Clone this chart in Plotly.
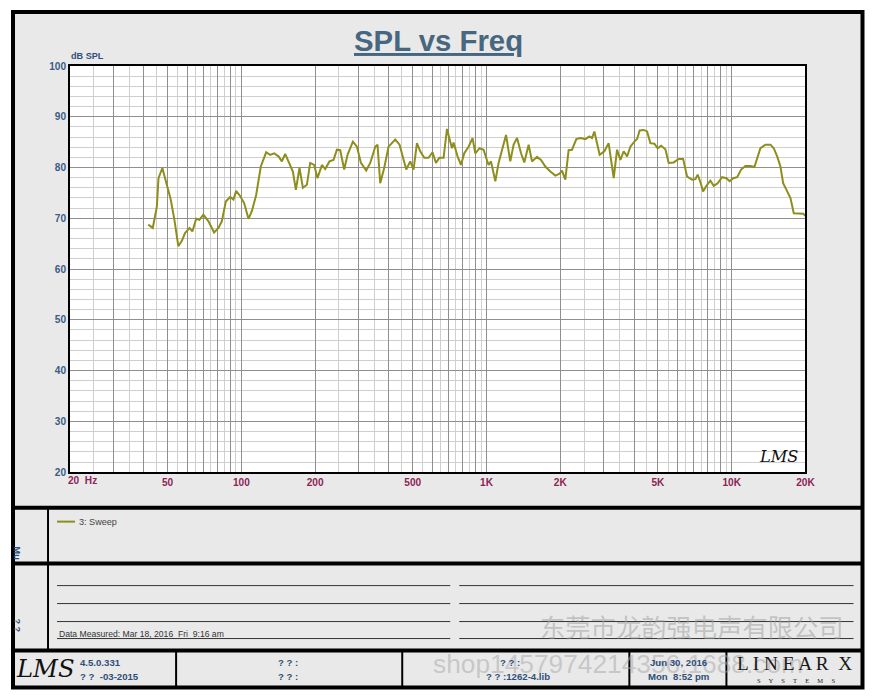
import plotly.graph_objects as go

# ---- data ----
freq_hz = [41.7, 43.5, 45.2, 45.9, 47.6, 49.3, 51.5, 53.3, 55.3, 57.1, 58.9, 61.4, 63.1, 65.4, 67.4,
           70.0, 73.4, 77.4, 80.6, 83.2, 86.4, 90.0, 92.8, 95.2, 98.8, 102.6, 106.9, 110.3, 114.9,
           120, 126.2, 131, 136, 141.7, 146.3, 150.9, 157.1, 162.2, 166.8, 172.6, 178.2, 185,
           190.8, 198.1, 204.4, 213, 219.7, 228.8, 237.6, 245.3, 253, 262.7, 271, 285, 296, 307.4,
           323, 335.4, 351.6, 359.2, 368.4, 382.4, 398.4, 424.2, 441.8, 458.6, 470.4, 488.4, 503.8,
           520.2, 536.6, 557.2, 580, 602.2, 621.8, 641.4, 668, 689.8, 706.8, 722.8, 733.8, 761.8,
           786.6, 811.4, 844.8, 877, 899.8, 936.8, 972.6, 1019, 1043, 1086, 1120, 1163, 1201,
           1250, 1290, 1332, 1383, 1426, 1485, 1533, 1607, 1668, 1737, 1821, 1908, 1987, 2032,
           2096, 2162, 2232, 2324, 2413, 2529, 2626, 2694, 2753, 2894, 3025, 3148, 3302, 3408,
           3516, 3627, 3744, 3862, 4009, 4112, 4214, 4375, 4518, 4660, 4838, 4992, 5152, 5366,
           5534, 5800, 6080, 6337, 6580, 6898, 7113, 7268, 7456, 7646, 7940, 8190, 8448, 8770,
           9142, 9520, 9818, 10140, 10530, 10930, 11380, 11930, 12380, 12700, 13100, 13730,
           14390, 14850, 15330, 15810, 16220, 16730, 17370, 17920, 18780, 19570, 20000]
spl_db = [68.75, 68.1, 72.3, 77.9, 79.9, 77.3, 73.7, 69.7, 64.5, 65.5, 67.1, 68.1, 67.4, 69.9, 69.7,
          70.7, 69.4, 67.2, 68.1, 69.4, 73.3, 74.2, 73.7, 75.4, 74.4, 73.0, 69.9, 71.4, 74.6,
          80.2, 83.0, 82.5, 82.8, 82.2, 81.2, 82.7, 80.9, 79.2, 75.6, 79.9, 76.0, 76.6,
          80.9, 80.5, 77.9, 80.5, 79.7, 81.2, 81.5, 83.5, 83.4, 79.6, 82.5, 85.1, 84.1, 80.9,
          79.4, 80.9, 84.1, 84.5, 76.9, 79.9, 84.1, 85.5, 84.5, 81.5, 79.6, 81.2, 79.6,
          84.8, 83.2, 81.9, 81.9, 83.0, 80.9, 81.9, 81.9, 87.6, 85.8, 83.8, 84.9, 82.2,
          80.5, 82.8, 84.1, 85.8, 82.8, 83.8, 83.5, 80.5, 81.2, 77.3, 80.9, 83.8, 86.4,
          81.2, 84.5, 85.8, 82.8, 81.0, 84.5, 81.2, 82.1, 81.5, 80.2, 79.2, 78.4, 78.8, 79.4,
          77.6, 83.4, 83.5, 85.6, 85.8, 85.6, 86.1, 85.8, 87.1, 82.5, 83.2, 84.8, 77.9, 83.5,
          81.5, 83.2, 82.2, 84.1, 85.1, 85.6, 87.3, 87.4, 87.1, 84.8, 84.7, 83.8, 84.3, 83.6,
          80.9, 81.0, 81.7, 81.7, 78.2, 77.6, 77.7, 78.6, 77.1, 75.3, 76.6, 77.4, 76.4, 76.9,
          78.1, 77.9, 77.3, 77.9, 78.1, 79.6, 80.3, 80.3, 80.1, 81.9, 83.8, 84.5,
          84.5, 83.8, 82.2, 80.2, 76.9, 75.6, 74.0, 71.0, 71.0, 70.9, 70.5]

series_name = "3: Sweep"
x_label_vals = [50, 100, 200, 500, 1000, 2000, 5000, 10000, 20000]
x_label_text = ["50", "100", "200", "500", "1K", "2K", "5K", "10K", "20K"]
y_label_vals = [20, 30, 40, 50, 60, 70, 80, 90, 100]

W, H = 875, 700
SX, SY, OY = 0.988, 0.985, 5.0   # compensation for the page capture
def px(x):
    return (x / SX) / W
def py(y):
    return 1 - ((y - OY) / SY) / H
def fs(s):
    return s / SX

# grid positions for log axis (dark: integer multiples, light: half-steps)
major_x, minor_x = [], []
for d in [10, 100, 1000, 10000]:
    for k in range(2, 11):
        v = d * k
        if 20 <= v <= 20000 and v not in major_x:
            major_x.append(v)
        h = d * k + d / 2
        if 20 < h < 20000 and k < 10:
            minor_x.append(h)
major_text = [x_label_text[x_label_vals.index(v)] if v in x_label_vals else "" for v in major_x]

FONT = "Liberation Sans"
CURVE = "#8e8e1c"
BLUE = "#2f4f7a"

fig = go.Figure()
fig.add_trace(go.Scatter(x=freq_hz, y=spl_db, mode="lines", name=series_name, showlegend=False,
                         line=dict(color=CURVE, width=2)))

shapes = []
# outer frame (grey panel)
shapes.append(dict(type="rect", xref="paper", yref="paper", x0=px(13), x1=px(862), y0=py(688), y1=py(12),
                   fillcolor="#e9e9e9", line=dict(color="black", width=4), layer="below"))
# white plotting area on top of the grey panel
shapes.append(dict(type="rect", xref="x domain", yref="y domain", x0=0, x1=1, y0=0, y1=1,
                   fillcolor="white", line=dict(width=0), layer="below"))
# horizontal panel dividers
for yy in [508, 564, 651]:
    shapes.append(dict(type="line", xref="paper", yref="paper", x0=px(13), x1=px(862), y0=py(yy), y1=py(yy),
                       line=dict(color="black", width=4)))
# left column divider
shapes.append(dict(type="line", xref="paper", yref="paper", x0=px(48), x1=px(48), y0=py(508), y1=py(651),
                   line=dict(color="black", width=2)))
# legend swatch
shapes.append(dict(type="line", xref="paper", yref="paper", x0=px(57), x1=px(75), y0=py(522), y1=py(522),
                   line=dict(color=CURVE, width=2)))
# notes lines
for yy in [586, 604, 622, 639]:
    shapes.append(dict(type="line", xref="paper", yref="paper", x0=px(57), x1=px(450), y0=py(yy), y1=py(yy),
                       line=dict(color="#333333", width=1)))
    shapes.append(dict(type="line", xref="paper", yref="paper", x0=px(459), x1=px(853), y0=py(yy), y1=py(yy),
                       line=dict(color="#333333", width=1)))
# footer dividers
for xx in [176, 402, 629, 726]:
    shapes.append(dict(type="line", xref="paper", yref="paper", x0=px(xx), x1=px(xx), y0=py(688), y1=py(651),
                       line=dict(color="black", width=2)))

annotations = []
def ann(text, x, y, size=9, color="#333333", xanchor="left", yanchor="middle", bold=False, **kw):
    d = dict(text=text, x=px(x), y=py(y), xref="paper", yref="paper", showarrow=False,
             xanchor=xanchor, yanchor=yanchor,
             font=dict(family=kw.pop("family", FONT), size=fs(size), color=color,
                       weight="bold" if bold else "normal", style=kw.pop("style", "normal")))
    d.update(kw)
    annotations.append(d)

# title
ann("<u>SPL vs Freq</u>", 438, 41, size=29, color="#46677f", xanchor="center", bold=True)
ann("dB SPL", 69, 56, size=9, color=BLUE, bold=True)
# x-axis first label (starts at the 20 Hz line)
annotations.append(dict(text="20  Hz", x=1.30103, y=py(481), xref="x", yref="paper", showarrow=False,
                        xanchor="left", yanchor="middle", xshift=-4,
                        font=dict(family=FONT, size=fs(10), color="#8c2457", weight="bold")))
# legend text
ann(series_name, 77, 522, size=9, color="#444444")
# LMS signature inside plot
ann("LMS", 778, 457, size=16, color="#111111", xanchor="center", family="DejaVu Serif", style="italic")
# left column rotated texts
ann("Mu", 17, 553, size=9, color=BLUE, xanchor="center", bold=True, textangle=90)
ann("? ?", 17, 626, size=9, color=BLUE, xanchor="center", bold=True, textangle=90)
# notes text
ann("Data Measured: Mar 18, 2016  Fri  9:16 am", 57, 634, size=8.5, color="#333333")
# watermarks
ann("东莞市龙韵强电声有限公司", 692, 626, size=25, color="rgba(160,160,160,0.55)", xanchor="center",
    family="Noto Sans CJK SC")
ann("shop1457974214356.1688.com", 618, 664, size=26, color="rgba(170,170,170,0.55)", xanchor="center")
# footer
ann("LMS", 45, 669, size=24, color="#111111", xanchor="center", family="DejaVu Serif", style="italic")
ann("4.5.0.331", 78, 663, size=9.5, color=BLUE, bold=True)
ann("? ?  -03-2015", 78, 677, size=9.5, color=BLUE, bold=True)
ann("? ? :", 288, 663, size=9.5, color=BLUE, xanchor="center", bold=True)
ann("? ? :", 288, 677, size=9.5, color=BLUE, xanchor="center", bold=True)
ann("? ? :", 510, 663, size=9.5, color=BLUE, xanchor="center", bold=True)
ann("? ? :1262-4.lib", 518, 677, size=9.5, color=BLUE, xanchor="center", bold=True)
ann("Jun 30, 2016", 678, 663, size=9.5, color=BLUE, xanchor="center", bold=True)
ann("Mon  8:52 pm", 678, 677, size=9.5, color=BLUE, xanchor="center", bold=True)
ann("L I N E A R  X", 794, 664, size=19, color="#1a1a1a", xanchor="center", family="Liberation Serif")
ann("S     Y     S     T     E     M     S", 796, 681, size=6.5, color="#222222", xanchor="center",
    family="Liberation Serif")

fig.update_layout(
    width=W, height=H,
    margin=dict(l=0, r=0, t=0, b=0),
    paper_bgcolor="white",
    plot_bgcolor="white",
    shapes=shapes,
    annotations=annotations,
    showlegend=False,
    xaxis=dict(
        type="log", domain=[px(70), px(805)], range=[1.30103, 4.30103],
        tickmode="array", tickvals=major_x, ticktext=major_text,
        tickfont=dict(family=FONT, size=fs(10), color="#8c2457", weight="bold"),
        ticks="", showgrid=True, gridcolor="#8f8f8f", gridwidth=1,
        minor=dict(tickmode="array", tickvals=minor_x, showgrid=True, gridcolor="#cfcfcf", gridwidth=1, ticks=""),
        showline=True, mirror=True, linecolor="black", linewidth=2, zeroline=False,
    ),
    yaxis=dict(
        domain=[py(472.5), py(66)], range=[20, 100],
        tickmode="array", tickvals=y_label_vals,
        tickfont=dict(family=FONT, size=fs(10), color="#3a5c86", weight="bold"),
        ticks="", showgrid=True, gridcolor="#8f8f8f", gridwidth=1,
        minor=dict(dtick=2, showgrid=True, gridcolor="#cfcfcf", gridwidth=1, ticks=""),
        showline=True, mirror=True, linecolor="black", linewidth=2, zeroline=False,
    ),
)

fig.write_html("out.html", post_script="document.body.style.margin='0';document.body.style.overflow='hidden';")
